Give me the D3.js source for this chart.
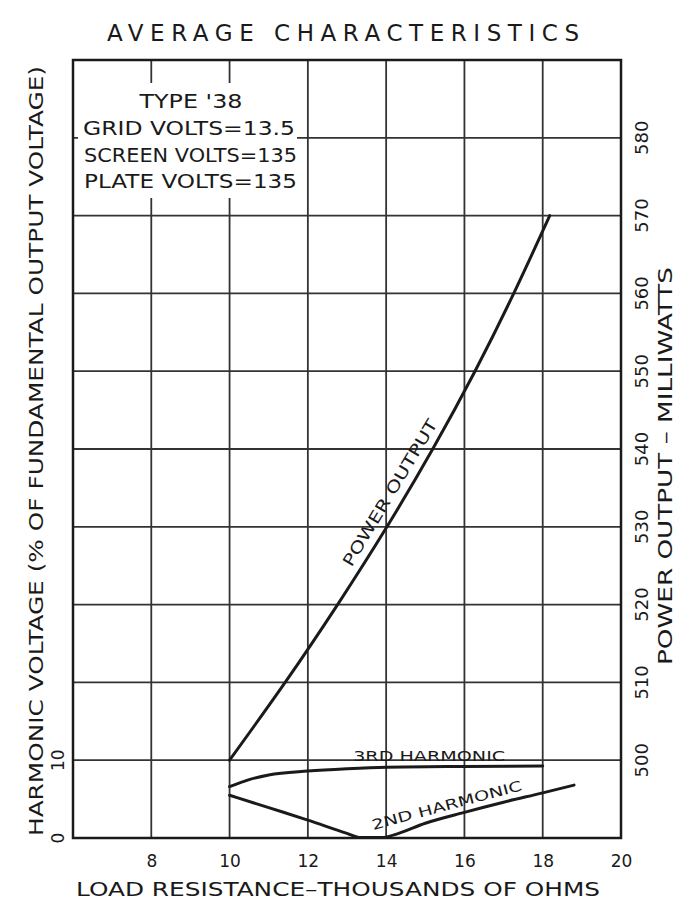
<!DOCTYPE html>
<html>
<head>
<meta charset="utf-8">
<script src="https://cdn.jsdelivr.net/npm/d3@7"></script>
<style>
  html, body { margin: 0; padding: 0; background: #fff; }
  svg text { font-family: "DejaVu Sans", "Liberation Sans", sans-serif; fill: #1a1a1a; }
</style>
</head>
<body>
<svg id="chart" width="678" height="903"></svg>
<script>
// ---- data ----
const xTicks = [8, 10, 12, 14, 16, 18, 20];
const powerTicks = [500, 510, 520, 530, 540, 550, 560, 570, 580];
const harmonicTicks = [0, 10];
const infoLines = ["TYPE '38", "GRID VOLTS=13.5", "SCREEN VOLTS=135", "PLATE VOLTS=135"];

const powerLoad   = [10, 11.42, 12.76, 14.02, 15.19, 16.27, 17.26, 18.18];
const powerOutput = [500, 510, 520, 530, 540, 550, 560, 570];

const thirdLoad = [10, 10.5, 11, 12, 13, 14, 16, 18];
const thirdHarm = [6.6, 7.5, 8.1, 8.6, 8.9, 9.1, 9.2, 9.25];

const secondLoad = [10, 11, 12, 13, 13.35, 13.9, 14.2, 15, 16, 17, 18, 18.8];
const secondHarm = [5.5, 3.9, 2.3, 0.6, 0.05, 0.05, 0.4, 1.9, 3.3, 4.6, 5.8, 6.8];

// ---- layout ----
const svg = d3.select("#chart");
const L = 73, R = 621, T = 60, B = 838;
const x = d3.scaleLinear().domain([6, 20]).range([L, R]);
const yP = d3.scaleLinear().domain([490, 590]).range([B, T]);
const yH = d3.scaleLinear().domain([0, 100]).range([B, T]);
const ink = "#1a1a1a";

// title
svg.append("text").attr("x", 343).attr("y", 41).attr("text-anchor", "middle")
  .attr("font-size", 23).attr("textLength", 472).attr("lengthAdjust", "spacing")
  .text("AVERAGE  CHARACTERISTICS");

// grid
const grid = svg.append("g").attr("stroke", "#333").attr("stroke-width", 1.8);
xTicks.filter(d => d < 20).forEach(d => {
  grid.append("line").attr("x1", x(d)).attr("x2", x(d)).attr("y1", T).attr("y2", B);
});
powerTicks.forEach(d => {
  grid.append("line").attr("x1", L).attr("x2", R).attr("y1", yP(d)).attr("y2", yP(d));
});

// white info box covering grid
svg.append("rect").attr("x", 78).attr("y", 83).attr("width", 219).attr("height", 115).attr("fill", "#fff");
const infoX = [191, 83, 84, 84];
const infoBase = [108, 135, 162, 188];
const infoLen = [103, 212, 213, 213];
infoLines.forEach((t, i) => {
  svg.append("text")
    .attr("x", infoX[i]).attr("y", infoBase[i])
    .attr("text-anchor", i === 0 ? "middle" : "start")
    .attr("font-size", 20).attr("textLength", infoLen[i]).attr("lengthAdjust", "spacingAndGlyphs")
    .text(t);
});

// border
svg.append("rect").attr("x", L).attr("y", T).attr("width", R - L).attr("height", B - T)
  .attr("fill", "none").attr("stroke", ink).attr("stroke-width", 2.5);

// axes tick labels
const xAxis = d3.axisBottom(x).tickValues(xTicks).tickSize(0).tickPadding(0);
const gx = svg.append("g").attr("transform", `translate(0,${B})`).call(xAxis);
gx.select(".domain").remove();
gx.selectAll("text").attr("font-size", 17).attr("dy", 0).attr("y", 29).attr("fill", ink);

const rAxis = d3.axisRight(yP).tickValues(powerTicks).tickSize(0);
const gr = svg.append("g").attr("transform", `translate(${R},0)`).call(rAxis);
gr.select(".domain").remove();
gr.selectAll(".tick").attr("transform", null);
gr.selectAll("text").attr("font-size", 18).attr("dy", 0)
  .attr("text-anchor", "middle").attr("fill", ink)
  .attr("transform", "translate(27,0) rotate(-90)")
  .each(function(d) { d3.select(this).attr("x", -yP(d)).attr("y", 0); });

const lAxis = d3.axisLeft(yH).tickValues(harmonicTicks).tickSize(0);
const gl = svg.append("g").attr("transform", `translate(${L},0)`).call(lAxis);
gl.select(".domain").remove();
gl.selectAll(".tick").attr("transform", null);
gl.selectAll("text").attr("font-size", 17).attr("dy", 0).attr("text-anchor", "middle").attr("fill", ink)
  .attr("transform", "translate(-9,0) rotate(-90)")
  .each(function(d) { d3.select(this).attr("x", -yH(d)).attr("y", 0); });

// axis titles
svg.append("text").attr("x", 338).attr("y", 896).attr("text-anchor", "middle")
  .attr("font-size", 19).attr("textLength", 524).attr("lengthAdjust", "spacingAndGlyphs")
  .text("LOAD RESISTANCE\u2013THOUSANDS OF OHMS");
svg.append("text").attr("transform", "translate(43,451) rotate(-90)").attr("text-anchor", "middle")
  .attr("font-size", 19).attr("textLength", 770).attr("lengthAdjust", "spacingAndGlyphs")
  .text("HARMONIC VOLTAGE (% OF FUNDAMENTAL OUTPUT VOLTAGE)");
svg.append("text").attr("transform", "translate(672,466) rotate(-90)").attr("text-anchor", "middle")
  .attr("font-size", 19).attr("textLength", 398).attr("lengthAdjust", "spacingAndGlyphs")
  .text("POWER OUTPUT \u2013 MILLIWATTS");

// curves
const curves = svg.append("g").attr("fill", "none").attr("stroke", ink).attr("stroke-width", 3)
  .attr("stroke-linecap", "round").attr("stroke-linejoin", "round");
curves.append("path").attr("d",
  d3.line().x(d => x(d[0])).y(d => yP(d[1])).curve(d3.curveNatural)(d3.zip(powerLoad, powerOutput)));
curves.append("path").attr("d",
  d3.line().x(d => x(d[0])).y(d => yH(d[1])).curve(d3.curveMonotoneX)(d3.zip(thirdLoad, thirdHarm)));
curves.append("path").attr("d",
  d3.line().x(d => x(d[0])).y(d => yH(d[1])).curve(d3.curveMonotoneX)(d3.zip(secondLoad, secondHarm)));

// curve labels
svg.append("text").attr("transform", `translate(${x(14.22)},${yP(534)}) rotate(-59)`)
  .attr("text-anchor", "middle").attr("font-size", 16).attr("textLength", 168).attr("lengthAdjust", "spacingAndGlyphs")
  .text("POWER  OUTPUT");
svg.append("text").attr("x", x(15.1)).attr("y", yH(9.85)).attr("text-anchor", "middle")
  .attr("font-size", 14).attr("textLength", 152).attr("lengthAdjust", "spacingAndGlyphs")
  .text("3RD HARMONIC");
svg.append("text").attr("transform", `translate(${x(15.58)},${yH(3.6)}) rotate(-15)`)
  .attr("text-anchor", "middle").attr("font-size", 14).attr("textLength", 155).attr("lengthAdjust", "spacingAndGlyphs")
  .text("2ND HARMONIC");
</script>
</body>
</html>
